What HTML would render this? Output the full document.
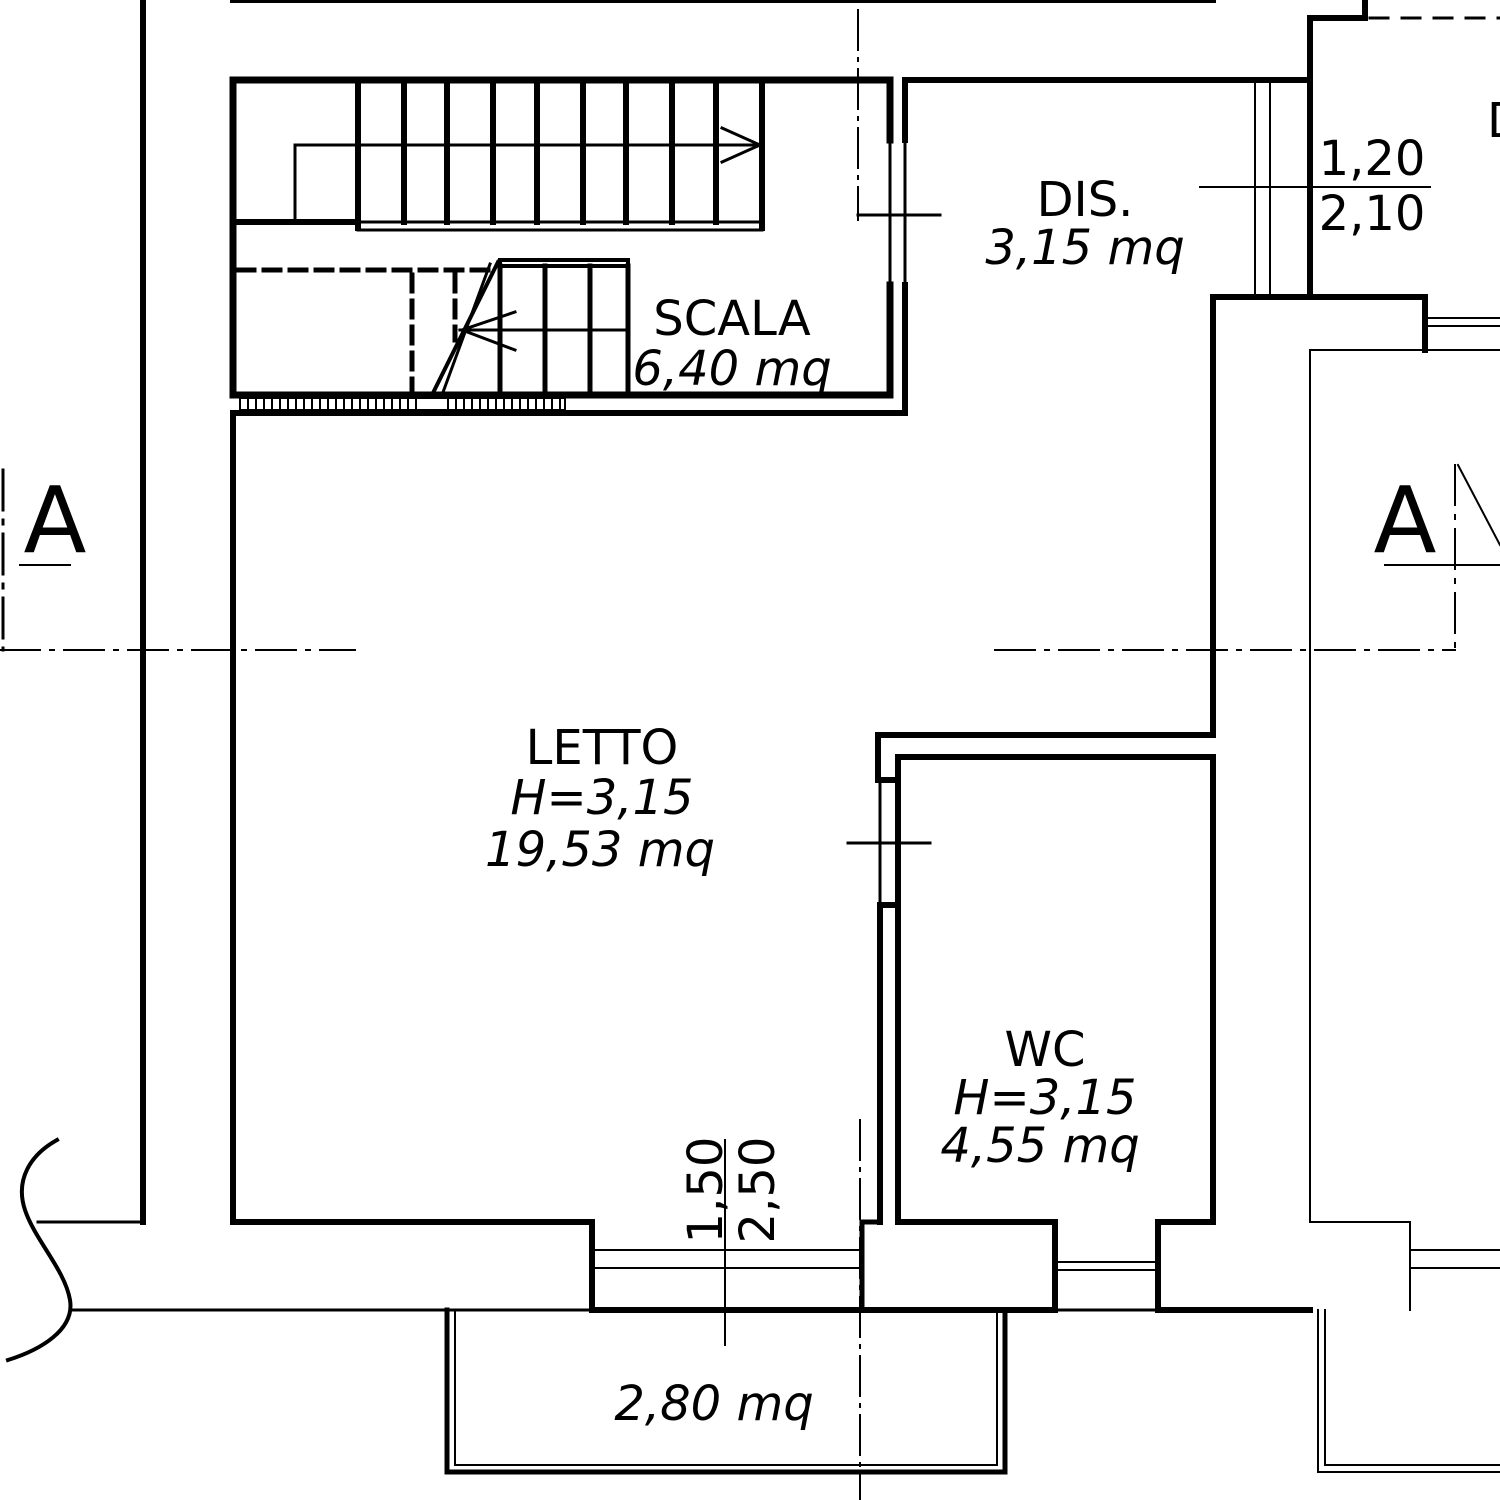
<!DOCTYPE html>
<html><head><meta charset="utf-8"><style>html,body{margin:0;padding:0;background:#fff}svg{display:block}</style></head>
<body>
<svg width="1500" height="1500" viewBox="0 0 1500 1500" xmlns="http://www.w3.org/2000/svg">
<g stroke="#000" fill="none" stroke-linecap="square">
<line x1="233" y1="0" x2="1213" y2="0" stroke-width="6"/>
<line x1="143" y1="0" x2="143" y2="1222" stroke-width="6"/>
<polyline points="1310,80 1310,18 1365,18 1365,0" stroke-width="6"/>
<line x1="1370" y1="18" x2="1500" y2="18" stroke-width="3" stroke-dasharray="18,14"/>
<line x1="858" y1="10" x2="858" y2="220" stroke-width="2" stroke-dasharray="40,8,3,8"/>
<polyline points="890,140 890,80 233,80 233,395 890,395 890,285" stroke-width="7"/>
<polyline points="905,140 905,80 1310,80 1310,297" stroke-width="6"/>
<line x1="890" y1="140" x2="890" y2="285" stroke-width="3"/>
<line x1="905" y1="285" x2="905" y2="413" stroke-width="6"/>
<line x1="905" y1="140" x2="905" y2="285" stroke-width="3"/>
<line x1="858" y1="215" x2="940" y2="215" stroke-width="3"/>
<line x1="233" y1="413" x2="905" y2="413" stroke-width="6"/>
<rect x="240" y="398" width="325" height="12" stroke-width="2"/>
<path d="M248 400v8M256 400v8M264 400v8M272 400v8M280 400v8M288 400v8M296 400v8M304 400v8M312 400v8M320 400v8M328 400v8M336 400v8M344 400v8M352 400v8M360 400v8M368 400v8M376 400v8M384 400v8M392 400v8M400 400v8M408 400v8M416 400v8M448 400v8M456 400v8M464 400v8M472 400v8M480 400v8M488 400v8M496 400v8M504 400v8M512 400v8M520 400v8M528 400v8M536 400v8M544 400v8M552 400v8M560 400v8" stroke-width="2"/>
<path d="M358 80V228M404 80V222M447 80V222M493 80V222M537 80V222M583 80V222M626 80V222M672 80V222M716 80V222M762 80V228" stroke-width="6"/>
<line x1="233" y1="222" x2="358" y2="222" stroke-width="6"/>
<rect x="358" y="222" width="404" height="8" stroke-width="3"/>
<polyline points="295,222 295,145 762,145" stroke-width="3"/>
<polyline points="722,128 760,145 722,162" stroke-width="3"/>
<rect x="500" y="260" width="128" height="6" stroke-width="4"/>
<path d="M500 266V395M545 266V395M590 266V395M628 266V395" stroke-width="5"/>
<line x1="460" y1="330" x2="628" y2="330" stroke-width="3"/>
<polyline points="515,312 462,330 515,350" stroke-width="3"/>
<line x1="498" y1="262" x2="432" y2="395" stroke-width="4"/>
<line x1="490" y1="264" x2="442" y2="395" stroke-width="3"/>
<line x1="238" y1="270" x2="495" y2="270" stroke-width="5" stroke-dasharray="16,10"/>
<line x1="412" y1="275" x2="412" y2="395" stroke-width="5" stroke-dasharray="16,10"/>
<line x1="455" y1="275" x2="455" y2="340" stroke-width="5" stroke-dasharray="16,10"/>
<line x1="1255" y1="80" x2="1255" y2="297" stroke-width="2"/>
<line x1="1270" y1="80" x2="1270" y2="297" stroke-width="2"/>
<line x1="1200" y1="187" x2="1430" y2="187" stroke-width="2"/>
<polyline points="1213,735 1213,297 1425,297 1425,350" stroke-width="6"/>
<line x1="1425" y1="318" x2="1500" y2="318" stroke-width="2"/>
<line x1="1425" y1="326" x2="1500" y2="326" stroke-width="2"/>
<polyline points="1500,350 1310,350 1310,1222 1410,1222 1410,1310" stroke-width="2"/>
<line x1="1410" y1="1250" x2="1500" y2="1250" stroke-width="2"/>
<line x1="1410" y1="1268" x2="1500" y2="1268" stroke-width="2"/>
<polyline points="1318,1310 1318,1472 1500,1472" stroke-width="2"/>
<polyline points="1325,1310 1325,1465 1500,1465" stroke-width="2"/>
<line x1="0" y1="650" x2="355" y2="650" stroke-width="2" stroke-dasharray="40,10,4,10"/>
<line x1="3" y1="470" x2="3" y2="650" stroke-width="3" stroke-dasharray="40,10,4,10"/>
<line x1="20" y1="565" x2="70" y2="565" stroke-width="2"/>
<line x1="995" y1="650" x2="1455" y2="650" stroke-width="2" stroke-dasharray="40,10,4,10"/>
<line x1="1455" y1="465" x2="1455" y2="650" stroke-width="2" stroke-dasharray="40,10,4,10"/>
<line x1="1385" y1="565" x2="1500" y2="565" stroke-width="2"/>
<line x1="1458" y1="465" x2="1500" y2="545" stroke-width="2"/>
<polyline points="233,413 233,1222 592,1222 592,1310" stroke-width="6"/>
<line x1="592" y1="1250" x2="860" y2="1250" stroke-width="2"/>
<line x1="592" y1="1268" x2="860" y2="1268" stroke-width="2"/>
<polyline points="1213,735 878,735 878,780 898,780" stroke-width="6"/>
<polyline points="880,1222 880,905 898,905" stroke-width="6"/>
<line x1="880" y1="780" x2="880" y2="905" stroke-width="3"/>
<line x1="898" y1="780" x2="898" y2="905" stroke-width="3"/>
<line x1="848" y1="843" x2="930" y2="843" stroke-width="3"/>
<polyline points="898,757 1213,757 1213,1222 1158,1222 1158,1310" stroke-width="6"/>
<polyline points="898,757 898,1222 1055,1222 1055,1310" stroke-width="6"/>
<line x1="1055" y1="1262" x2="1158" y2="1262" stroke-width="2"/>
<line x1="1055" y1="1270" x2="1158" y2="1270" stroke-width="2"/>
<polyline points="880,1222 862,1222 862,1310" stroke-width="5"/>
<line x1="860" y1="1120" x2="860" y2="1500" stroke-width="2" stroke-dasharray="40,8,3,8"/>
<line x1="70" y1="1310" x2="1310" y2="1310" stroke-width="3"/>
<line x1="592" y1="1310" x2="1055" y2="1310" stroke-width="6"/>
<line x1="1158" y1="1310" x2="1310" y2="1310" stroke-width="6"/>
<polyline points="447,1310 447,1472 1005,1472 1005,1310" stroke-width="5"/>
<polyline points="455,1312 455,1465 997,1465 997,1312" stroke-width="2"/>
<line x1="725" y1="1140" x2="725" y2="1345" stroke-width="2"/>
<line x1="38" y1="1222" x2="143" y2="1222" stroke-width="3"/>
<path d="M57 1140 C30 1155 15 1180 25 1210 C35 1240 65 1270 70 1300 C75 1330 40 1350 8 1360" stroke-width="4"/>
</g>
<g font-family="'DejaVu Sans','Liberation Sans',sans-serif" font-size="48" fill="#000" text-anchor="middle">
<text x="732" y="335">SCALA</text>
<text x="732" y="385" font-style="italic">6,40 mq</text>
<text x="1085" y="216">DIS.</text>
<text x="1085" y="264" font-style="italic">3,15 mq</text>
<text x="1372" y="175">1,20</text>
<text x="1372" y="230">2,10</text>
<text x="602" y="764">LETTO</text>
<text x="602" y="814" font-style="italic">H=3,15</text>
<text x="600" y="866" font-style="italic">19,53 mq</text>
<text x="1045" y="1066">WC</text>
<text x="1045" y="1114" font-style="italic">H=3,15</text>
<text x="1040" y="1162" font-style="italic">4,55 mq</text>
<text x="714" y="1420" font-style="italic">2,80 mq</text>
<text transform="translate(722,1190) rotate(-90)">1,50</text>
<text transform="translate(774,1190) rotate(-90)">2,50</text>
<text x="55" y="552" font-size="92">A</text>
<text x="1405" y="552" font-size="92">A</text>
<text x="1487" y="137" text-anchor="start">D</text>
</g>
</svg>
</body></html>
